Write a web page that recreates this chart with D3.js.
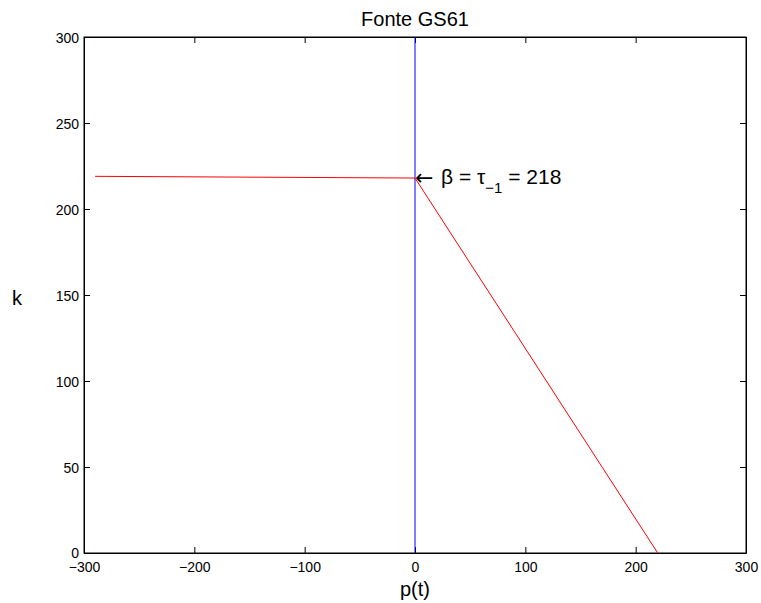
<!DOCTYPE html>
<html><head><meta charset="utf-8">
<script src="https://cdn.jsdelivr.net/npm/d3@7"></script>
<style>body{margin:0;background:#fff;} svg{display:block;font-family:"Liberation Sans",Arial,sans-serif;}</style>
</head><body>
<script>
const xTicks = [-300, -200, -100, 0, 100, 200, 300];
const yTicks = [0, 50, 100, 150, 200, 250, 300];
const redX = [-290, 0, 220];
const redY = [219, 218, 0];
const blueX = [0, 0];
const blueY = [0, 300];
const annotation = {x: 0, y: 218, label: "218"};

(function () {
const W = 761, H = 603;
const m = {l: 84, r: 761 - 746, t: 37, b: 603 - 553};
const svg = d3.select("body").append("svg").attr("width", W).attr("height", H);
const x = d3.scaleLinear().domain([-300, 300]).range([m.l, W - m.r]);
const y = d3.scaleLinear().domain([0, 300]).range([H - m.b, m.t]);

svg.append("rect").attr("x", x(-300)).attr("y", y(300)).attr("width", x(300) - x(-300)).attr("height", y(0) - y(300))
  .attr("fill", "none").attr("stroke", "#000").attr("stroke-width", 1);

const tl = 6;
const aBottom = svg.append("g").attr("transform", `translate(0,${y(0)})`)
  .call(d3.axisBottom(x).tickValues(xTicks).tickSizeInner(-tl).tickSizeOuter(0).tickFormat(d => d < 0 ? "\u2212" + Math.abs(d) : d));
const aTop = svg.append("g").attr("transform", `translate(0,${y(300)})`)
  .call(d3.axisTop(x).tickValues(xTicks).tickSizeInner(-tl).tickSizeOuter(0).tickFormat(""));
const aLeft = svg.append("g").attr("transform", `translate(${x(-300)},0)`)
  .call(d3.axisLeft(y).tickValues(yTicks).tickSizeInner(-tl).tickSizeOuter(0).tickPadding(5));
const aRight = svg.append("g").attr("transform", `translate(${x(300)},0)`)
  .call(d3.axisRight(y).tickValues(yTicks).tickSizeInner(-tl).tickSizeOuter(0).tickFormat(""));
[aBottom, aTop, aLeft, aRight].forEach(a => {
  a.select(".domain").attr("stroke", "#000");
  a.selectAll("text").attr("font-size", 14).attr("fill", "#000").attr("font-family", "Liberation Sans, Arial, sans-serif");
  a.selectAll("line").attr("stroke", "#000");
});
aBottom.selectAll("text").attr("y", 19).attr("dy", 0);
aLeft.selectAll("text").attr("dy", "0.4em");
aLeft.selectAll(".tick").filter(d => d === 0).select("text").attr("dy", "0.3em");

const line = d3.line().x(d => x(d[0])).y(d => y(d[1]));
svg.append("path").datum(blueX.map((v, i) => [v, blueY[i]])).attr("d", line)
  .attr("fill", "none").attr("stroke", "#0000ff").attr("stroke-width", 1);
svg.append("path").datum(redX.map((v, i) => [v, redY[i]])).attr("d", line)
  .attr("fill", "none").attr("stroke", "#ff0000").attr("stroke-width", 1);

const ax = x(annotation.x), ay = y(annotation.y);
svg.append("text").attr("x", ax).attr("y", ay + 6.5).attr("font-size", 22)
  .attr("font-family", "DejaVu Sans").text("\u2190");
const t = svg.append("text").attr("x", ax + 26).attr("y", ay + 6)
  .attr("font-size", 21).attr("fill", "#000");
t.append("tspan").text("\u03B2 = \u03C4");
t.append("tspan").attr("dy", 9).attr("font-size", 15).text("\u22121");
t.append("tspan").attr("dy", -9).text(" = " + annotation.label);

svg.append("text").attr("x", (x(-300) + x(300)) / 2).attr("y", 26).attr("text-anchor", "middle").attr("font-size", 20).text("Fonte GS61");
svg.append("text").attr("x", (x(-300) + x(300)) / 2).attr("y", 596).attr("text-anchor", "middle").attr("font-size", 20).text("p(t)");
svg.append("text").attr("x", 17).attr("y", 305).attr("text-anchor", "middle").attr("font-size", 20).text("k");
})();
</script>
</body></html>
